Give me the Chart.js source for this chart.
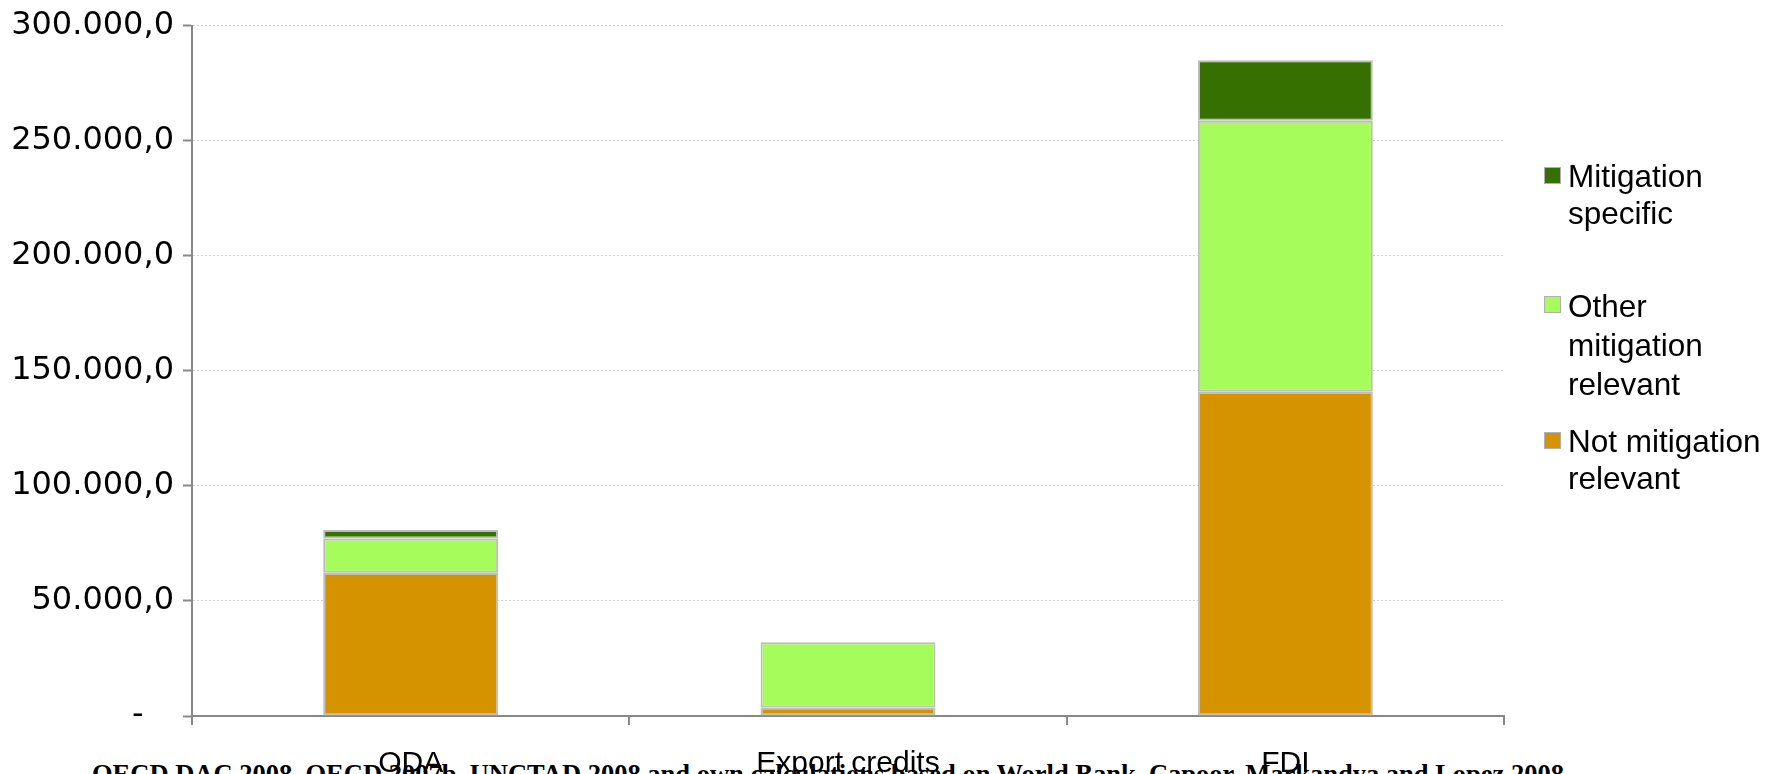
<!DOCTYPE html>
<html>
<head>
<meta charset="utf-8">
<script src="https://cdn.jsdelivr.net/npm/chart.js@4/dist/chart.umd.min.js"></script>
<style>
  html, body { margin: 0; padding: 0; background: #fff; overflow: hidden; }
  #wrap { position: relative; width: 1765px; height: 774px; overflow: hidden; }
  #chart { position: absolute; left: 0; top: 0; }
  #source {
    position: absolute; left: 92px; top: 761px;
    font: bold 26.5px "Liberation Serif", "Times New Roman", serif;
    line-height: 26.5px; white-space: nowrap; color: #000;
  }
  .leg { position: absolute; left: 1544px; font: 31.5px "Liberation Sans", Arial, sans-serif; color: #000; }
  .leg .box { position: absolute; left: 0; top: 9px; width: 15px; height: 15px; border: 1px solid #b0b0b0; }
  .leg .txt { position: absolute; left: 24px; top: 0; white-space: nowrap; }
</style>
</head>
<body>
<div id="wrap">
  <div id="source">OECD DAC 2008, OECD 2007b, UNCTAD 2008 and own calculations based on World Bank, Capoor, Markandya and Lopez 2008</div>
  <canvas id="chart" width="1765" height="774"></canvas>
  <div id="legend"></div>
</div>
<script>
// Financial flows by mitigation relevance

const categories = ['ODA', 'Export credits', 'FDI'];
const notMitigation = [62300, 3700, 140900];
const otherMitigation = [14900, 28400, 117800];
const mitigationSpecific = [3600, 0, 26300];

const seriesNames = [['Not mitigation', 'relevant'], ['Other', 'mitigation', 'relevant'], ['Mitigation', 'specific']];
const seriesColors = ['#d59300', '#a6fc5a', '#367000'];

const yMax = 300000;
const yStep = 50000;

const fontFamily = '"Liberation Sans", Arial, sans-serif';

function formatTick(value) {
  if (value === 0) return '-   ';
  const whole = Math.round(value).toString().replace(/\B(?=(\d{3})+(?!\d))/g, '.');
  return whole + ',0';
}

const datasets = [notMitigation, otherMitigation, mitigationSpecific].map((values, i) => ({
  label: seriesNames[i].join(' '),
  data: values,
  backgroundColor: seriesColors[i],
  borderColor: '#bdbdbd',
  borderWidth: 2,
  borderSkipped: false,
  categoryPercentage: 1,
  barPercentage: 0.4
}));

const chart = new Chart(document.getElementById('chart'), {
  type: 'bar',
  data: { labels: categories, datasets: datasets },
  options: {
    responsive: false,
    animation: false,
    devicePixelRatio: 1,
    layout: { padding: { left: 0, right: 261, top: 0, bottom: 0 } },
    plugins: {
      legend: { display: false },
      tooltip: { enabled: false }
    },
    scales: {
      x: {
        stacked: true,
        afterFit: (scale) => { scale.height = 58; },
        grid: { offset: true, drawOnChartArea: false, color: '#888', lineWidth: 2, tickLength: 9 },
        border: { color: '#888', width: 2 },
        ticks: { color: '#000', padding: 21, font: { family: fontFamily, size: 30 } }
      },
      y: {
        stacked: true,
        min: 0,
        max: yMax,
        afterFit: (scale) => { scale.width = 192; },
        ticks: {
          stepSize: yStep,
          color: '#000',
          padding: 9,
          font: { family: '"DejaVu Sans", sans-serif', size: 32, lineHeight: 1.05 },
          callback: (v) => formatTick(v)
        },
        grid: { color: '#d0d0d0', lineWidth: 1, tickLength: 9, tickColor: '#888', tickWidth: 2 },
        border: { color: '#888', width: 2, dash: [2, 2] }
      }
    }
  }
});

// Legend drawn as html, top item is the top of the stack
const legendTops = [158, 287, 423];
const legendLines = [37, 39, 37];
const legend = document.getElementById('legend');
[2, 1, 0].forEach((idx, pos) => {
  const ds = chart.data.datasets[idx];
  const item = document.createElement('div');
  item.className = 'leg';
  item.style.top = legendTops[pos] + 'px';
  item.style.lineHeight = legendLines[pos] + 'px';
  item.innerHTML = '<div class="box" style="background:' + ds.backgroundColor + '"></div>' +
    '<div class="txt">' + seriesNames[idx].join('<br>') + '</div>';
  legend.appendChild(item);
});
</script>
</body>
</html>
